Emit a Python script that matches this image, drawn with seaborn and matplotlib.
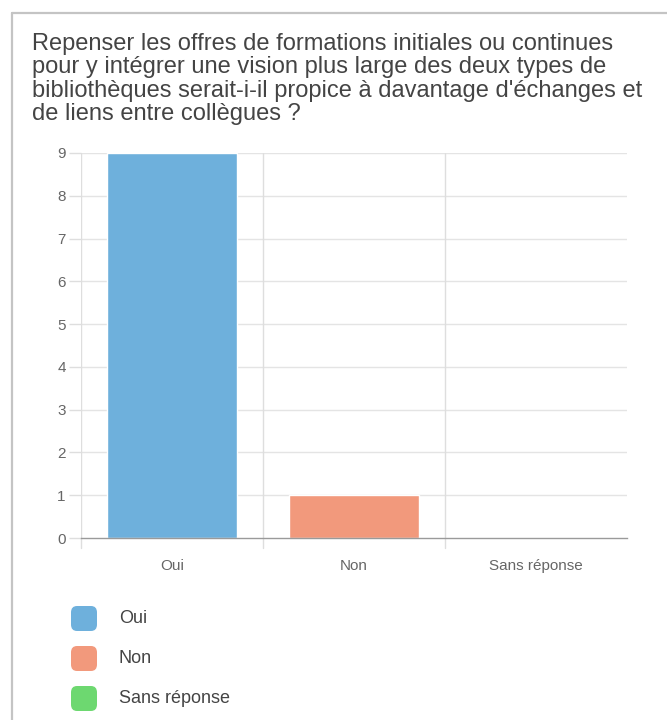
import matplotlib
matplotlib.use("Agg")
import matplotlib.pyplot as plt
from matplotlib.patches import FancyBboxPatch
from matplotlib.lines import Line2D
import seaborn as sns
import pandas as pd

title = ("Repenser les offres de formations initiales ou continues\n"
         "pour y intégrer une vision plus large des deux types de\n"
         "bibliothèques serait-i-il propice à davantage d'échanges et\n"
         "de liens entre collègues ?")
categories = ["Oui", "Non", "Sans réponse"]
counts = [9, 1, 0]
colors = ["#6EB0DC", "#F2997C", "#6DD870"]
y_ticks = list(range(0, 10))

sns.set_theme(style="white")
plt.rcParams["font.family"] = ["Liberation Sans", "DejaVu Sans"]

W, H = 667, 720
fig = plt.figure(figsize=(W / 100, H / 100), dpi=100)

def fx(px):
    return px / W

def fy(py):
    return 1 - py / H

# frame around the card
fig.add_artist(Line2D([fx(12), fx(12)], [fy(13), fy(720)], color="#c4c4c4", lw=1.6))
fig.add_artist(Line2D([fx(12), fx(667)], [fy(13), fy(13)], color="#c4c4c4", lw=1.6))

fig.text(fx(32), fy(33), title, ha="left", va="top", fontsize=17,
         color="#444444", linespacing=1.08)

left, right, top, bottom = 81, 627, 153, 538
ax = fig.add_axes([fx(left), fy(bottom), fx(right - left), fy(top) - fy(bottom)])

df = pd.DataFrame({"cat": categories, "n": counts})
sns.barplot(data=df, x="cat", y="n", hue="cat", palette=colors, order=categories,
            hue_order=categories, width=0.714, legend=False, saturation=1,
            ax=ax, zorder=3)

ax.set_xlim(-0.5, 2.5)
ax.set_ylim(0, 9)
ax.set_yticks(y_ticks)
ax.set_xlabel("")
ax.set_ylabel("")
for s in ["top", "right", "left"]:
    ax.spines[s].set_visible(False)
ax.spines["bottom"].set_color("#9a9a9a")
ax.spines["bottom"].set_linewidth(1.0)
ax.spines["bottom"].set_zorder(4)

for y in y_ticks[1:]:
    ax.axhline(y, color="#e4e4e4", lw=1.0, zorder=1)
for xb in [-0.5, 0.5, 1.5]:
    ax.axvline(xb, color="#dedede", lw=1.0, zorder=1)
    ax.plot([xb, xb], [0, -0.23], color="#dedede", lw=1.0, clip_on=False, zorder=1)

ax.tick_params(axis="y", length=9, width=1.0, color="#dedede", labelsize=11,
               labelcolor="#666666", pad=2, left=True)
ax.tick_params(axis="x", length=0, labelsize=11, labelcolor="#666666", pad=15)

# legend
for i, (lab, c) in enumerate(zip(categories, colors)):
    yc = 618.5 + i * 40
    box = FancyBboxPatch((fx(71), fy(yc + 12.5)), fx(26), fy(yc - 12.5) - fy(yc + 12.5),
                         boxstyle="round,pad=0,rounding_size=0.009",
                         transform=fig.transFigure, facecolor=c, edgecolor="none")
    fig.add_artist(box)
    fig.text(fx(119), fy(yc), lab, ha="left", va="center", fontsize=13, color="#444444")

fig.savefig("out.png", dpi=100, facecolor="white")
